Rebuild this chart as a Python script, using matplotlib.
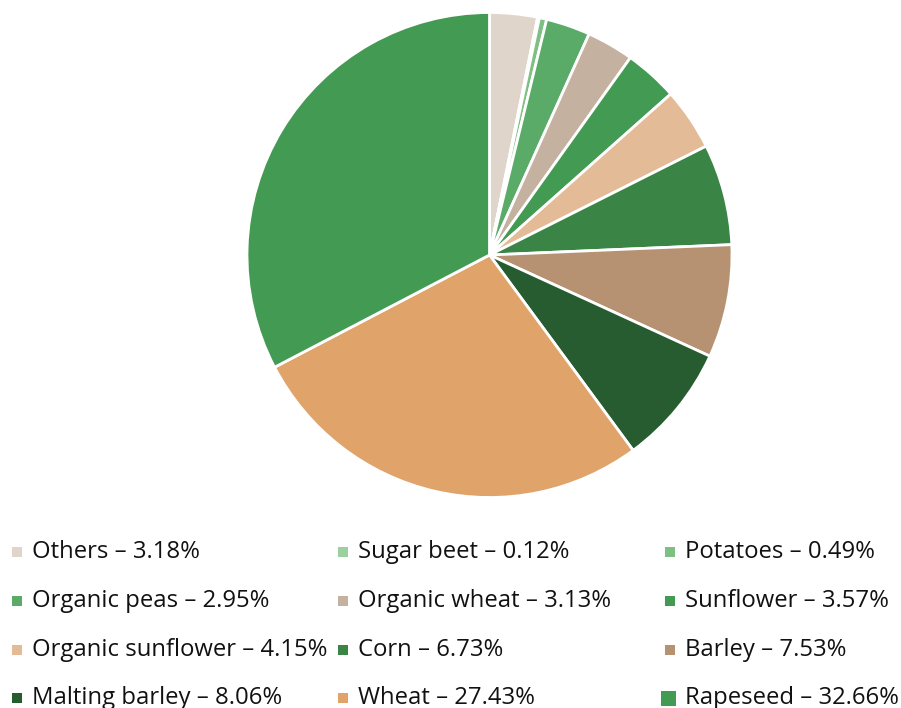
import matplotlib
matplotlib.use("Agg")
import matplotlib.pyplot as plt
from matplotlib.patches import Rectangle

plt.rcParams['font.family'] = ['Open Sans', 'DejaVu Sans']

labels = ["Others", "Sugar beet", "Potatoes", "Organic peas", "Organic wheat", "Sunflower",
          "Organic sunflower", "Corn", "Barley", "Malting barley", "Wheat", "Rapeseed"]
values = [3.18, 0.12, 0.49, 2.95, 3.13, 3.57, 4.15, 6.73, 7.53, 8.06, 27.43, 32.66]
colors = ["#dfd5cb", "#9dd09f", "#7ebf83", "#5aab68", "#c5b19f", "#439a53",
          "#e3bb97", "#3a8446", "#b69273", "#265c30", "#e0a46b", "#439a53"]

W, H = 901, 708
fig = plt.figure(figsize=(W/100, H/100), dpi=100)

cx, cy, r = 489.5, 255, 242.5
pad = 1.02
ax = fig.add_axes([(cx - r*pad)/W, (H - cy - r*pad)/H, 2*r*pad/W, 2*r*pad/H])
ax.pie(values, colors=colors, startangle=90, counterclock=False, radius=1,
       wedgeprops=dict(edgecolor="white", linewidth=2))
ax.set_xlim(-pad, pad)
ax.set_ylim(-pad, pad)
ax.set_aspect('equal')
ax.axis('off')

# legend in pixel coordinates
lax = fig.add_axes([0, 0, 1, 1])
lax.set_xlim(0, W)
lax.set_ylim(H, 0)
lax.axis('off')
col_x = [12, 338, 665]
row_y = [552, 601, 650, 698]
for i, (lab, val, c) in enumerate(zip(labels, values, colors)):
    row, col = divmod(i, 3)
    x, y = col_x[col], row_y[row]
    s = 15 if lab == "Rapeseed" else 10
    lax.add_patch(Rectangle((x + 5 - s/2 - (2 if s > 10 else 0), y - s/2), s, s,
                            facecolor=c, edgecolor='none'))
    lax.text(x + 20, y, f"{lab} \u2013 {val:.2f}%", fontsize=17.2, color="#111111",
             va='center', ha='left')

fig.savefig("out.png", dpi=100)
